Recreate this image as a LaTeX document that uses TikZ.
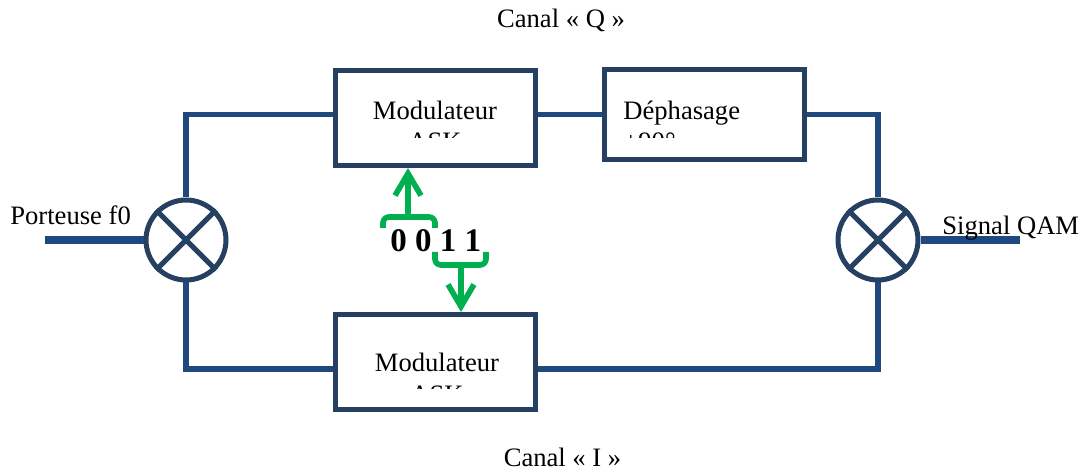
\documentclass[tikz,border=0pt]{standalone}
\usepackage{fontspec}
\setmainfont{Liberation Serif}
\usetikzlibrary{arrows.meta}
\definecolor{cadre}{RGB}{37,64,97}
\definecolor{trait}{RGB}{31,73,125}
\definecolor{vertbit}{RGB}{0,176,80}
\tikzstyle{bloc} = [rectangle, minimum width=100pt, minimum height=47.5pt, inner sep=0pt, draw=cadre, line width=2.5pt, fill=white]
\tikzstyle{melangeur} = [circle, minimum size=40pt, inner sep=0pt, draw=cadre, line width=2.5pt, fill=white]
\tikzstyle{texte} = [inner sep=0pt, font=\fontsize{13.3}{16}\selectfont]
\tikzstyle{bits} = [inner sep=0pt, font=\fontsize{16.5}{19}\selectfont\bfseries]
\tikzstyle{liaison} = [draw=trait, line width=2.8pt]
\tikzstyle{fort} = [draw=trait, line width=4.3pt]
\tikzstyle{accolade} = [draw=vertbit, line width=2.8pt, rounded corners=3pt]
\tikzstyle{fleche} = [draw=vertbit, line width=2.8pt, -{Straight Barb[length=11pt,width=13pt]}]

\begin{document}
\begin{tikzpicture}[x=0.5pt, y=-0.5pt]
\useasboundingbox (0,0) rectangle (1083,475);

\node (askq) [bloc] at (435,118) {};
\node (dephas) [bloc, minimum height=45pt] at (704.5,114.5) {};
\node (aski) [bloc] at (435.25,362) {};
\node (mixg) [melangeur] at (186,240) {};
\node (mixd) [melangeur] at (878,240) {};
\coordinate (entree) at (45,240);
\coordinate (sortie) at (1020,240);

% liaisons
\draw [liaison] (mixg.north) |- ([yshift=1.75pt]askq.west);
\draw [liaison] ([yshift=1.75pt]askq.east) -- (dephas.west);
\draw [liaison] (dephas.east) -| (mixd.north);
\draw [liaison] (mixg.south) |- ([yshift=-3.5pt]aski.west);
\draw [liaison] ([yshift=-3.5pt]aski.east) -| (mixd.south);
\draw [fort] (entree) -- (mixg.west);
\draw [fort] (mixd.east) -- (sortie);

% croix des melangeurs
\draw [cadre, line width=2.5pt] (mixg.north west) -- (mixg.south east) (mixg.north east) -- (mixg.south west);
\draw [cadre, line width=2.5pt] (mixd.north west) -- (mixd.south east) (mixd.north east) -- (mixd.south west);

% textes
\node (porteuse) [texte, anchor=base west] at (10,225) {Porteuse f0};
\node (qam) [texte, anchor=base west] at (942,235) {Signal QAM};
\node (canalq) [texte, anchor=base] at (561,28) {Canal « Q »};
\node (canali) [texte, anchor=base] at (562.5,467) {Canal « I »};

\node (modq) [texte, anchor=base] at (435,120) {Modulateur};
\begin{scope}
\clip (337,73) rectangle (533,138);
\node (askqtxt) [texte, anchor=base] at (435,151) {ASK};
\end{scope}
\node (dephtxt) [texte, anchor=base west] at (623,120) {Déphasage};
\begin{scope}
\clip (607,72) rectangle (802,138);
\node (angle) [texte, anchor=base west] at (623,151) {+90°};
\end{scope}
\node (modi) [texte, anchor=base] at (437,372) {Modulateur};
\begin{scope}
\clip (337,317) rectangle (533,389);
\node (askitxt) [texte, anchor=base] at (437,404) {ASK};
\end{scope}

% bits et accolades
\node (donnees) [bits, anchor=base west] at (390,252) {0 0 1 1};
\draw [accolade] (383,228) -- (383,217) -- (435,217) -- (435,228);
\coordinate (accq) at (408,217);
\draw [fleche] (accq) -- (accq |- askq.south);
\draw [accolade] (435,252) -- (435,265) -- (486,265) -- (486,252);
\coordinate (acci) at (461,265);
\draw [fleche] (acci) -- (acci |- aski.north);

\end{tikzpicture}
\end{document}
